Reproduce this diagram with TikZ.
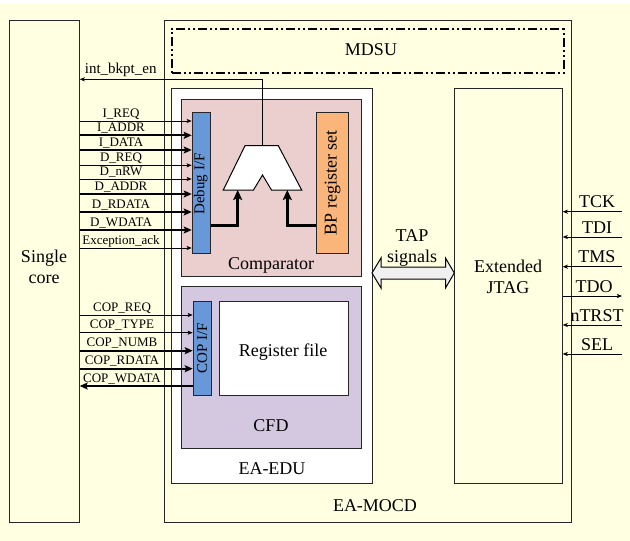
\documentclass[tikz,border=0pt]{standalone}
\usepackage{fontspec}
\setmainfont{Liberation Serif}
\usetikzlibrary{arrows.meta}
\definecolor{cream}{RGB}{255,255,225}
\definecolor{cmppink}{RGB}{235,206,206}
\definecolor{ifblue}{RGB}{104,152,216}
\definecolor{bporange}{RGB}{250,182,122}
\definecolor{cfdpurple}{RGB}{212,200,224}
\tikzset{
  blk/.style={draw=black!85, line width=1pt, inner sep=0pt, anchor=north west},
  lsig/.style={line width=0.8pt, -{Stealth[length=5pt,width=4pt,inset=1pt]}},
  hsig/.style={line width=2.2pt, -{Stealth[length=8pt,width=7pt,inset=1.5pt]}},
  msig/.style={line width=3pt, -{Stealth[length=10pt,width=9pt,inset=2pt]}},
  siglbl/.style={font=\fontsize{13}{15}\selectfont, anchor=base, inner sep=0pt},
  iflbl/.style={font=\fontsize{15}{18}\selectfont, inner sep=0pt, rotate=90},
  biglbl/.style={font=\fontsize{18}{21}\selectfont, inner sep=0pt, align=center},
}
\begin{document}
\begin{tikzpicture}[x=1pt,y=-1pt]
	\useasboundingbox (0,0) rectangle (630,541);
	\fill[cream] (0,4) rectangle (630,541);
	% blocks
	\node[blk, fill=cream, minimum width=69.4pt, minimum height=501.7pt] (core) at (9.3,20) {};
	\node[blk, fill=cream, minimum width=406.7pt, minimum height=501.7pt] (mocd) at (164,20) {};
	\node[blk, draw=black, line width=2pt, dash pattern=on 9pt off 3pt on 2pt off 3pt on 2pt off 3pt,
		minimum width=392pt, minimum height=43.7pt] (mdsu) at (170.7,28) {};
	\node[blk, fill=white, minimum width=200.7pt, minimum height=394.7pt] (edu) at (171.3,88.3) {};
	\node[blk, fill=cmppink, minimum width=180.3pt, minimum height=176.7pt] (cmp) at (180.7,99.3) {};
	\node[blk, fill=ifblue, minimum width=18pt, minimum height=141.3pt] (dbg) at (191.7,111.7) {};
	\node[blk, fill=bporange, minimum width=32.6pt, minimum height=141.6pt] (bp) at (315.7,111.7) {};
	\node[blk, fill=cfdpurple, minimum width=180pt, minimum height=161.7pt] (cfd) at (181,286) {};
	\node[blk, fill=ifblue, minimum width=18.3pt, minimum height=94.3pt] (cop) at (192.7,300.7) {};
	\node[blk, fill=white, minimum width=128.7pt, minimum height=94.3pt] (regf) at (219,300.7) {};
	\node[blk, fill=cream, minimum width=107.4pt, minimum height=395pt] (jtag) at (454.3,88.3) {};
	% texts
	\node[biglbl] (coretxt) at (44,267) {Single\\core};
	\node[biglbl, anchor=base] (mdsutxt) at (371,55) {MDSU};
	\node[biglbl, anchor=base] (cmptxt) at (271,269) {Comparator};
	\node[biglbl, anchor=base] (regftxt) at (283,356) {Register file};
	\node[biglbl, anchor=base] (cfdtxt) at (271,431) {CFD};
	\node[biglbl, anchor=base] (edutxt) at (272,474) {EA-EDU};
	\node[biglbl, anchor=base] (mocdtxt) at (375,511) {EA-MOCD};
	\node[biglbl] (jtagtxt) at (508,277) {Extended\\JTAG};
	\node[biglbl, anchor=south] (taptxt) at (412,267) {TAP\\signals};
	\node[iflbl] (dbgtxt) at (200.7,184) {Debug I/F};
	\node[biglbl, rotate=90] (bptxt) at (bp) {BP register set};
	\node[iflbl] (coptxt) at (cop) {COP I/F};
	% comparator
	\draw[line width=1pt, fill=white] (245,145.7) -- (278.3,145.7) -- (301.7,190) -- (271.5,190)
		-- (262.5,175) -- (253.5,190) -- (223.3,190) -- cycle;
	\coordinate (muxtop) at (262,145.7);
	\coordinate (muxinl) at (237.7,190);
	\coordinate (muxinr) at (287.3,190);
	\draw[msig] (dbg.east |- 0,225) -| (muxinl);
	\draw[msig] (bp.west |- 0,225) -| (muxinr);
	\draw[lsig] (muxtop) |- (core.east |- 0,79.3);
	\node[siglbl, font=\fontsize{15}{18}\selectfont] (bkpttxt) at (120.7,73.5) {int\_bkpt\_en};
	% debug signals
	\foreach \y/\txt/\w [count=\i] in {121/I\_REQ/lsig, 135.3/I\_ADDR/hsig, 150/I\_DATA/hsig,
		165.3/D\_REQ/lsig, 179/D\_nRW/lsig, 194/D\_ADDR/hsig, 212/D\_RDATA/hsig,
		230/D\_WDATA/hsig, 248/Exception\_ack/lsig}
	{
		\draw[\w] (core.east |- 0,\y) -- (dbg.west |- 0,\y);
		\node[siglbl] (dl\i) at (121,\y-4) {\txt};
	}
	% cop signals
	\foreach \y/\txt/\w [count=\i] in {315/COP\_REQ/lsig, 332.7/COP\_TYPE/lsig,
		350.7/COP\_NUMB/hsig, 368.7/COP\_RDATA/hsig}
	{
		\draw[\w] (core.east |- 0,\y) -- (cop.west |- 0,\y);
		\node[siglbl] (cl\i) at (122,\y-4) {\txt};
	}
	\draw[hsig] (cop.west |- 0,386) -- (core.east |- 0,386);
	\node[siglbl] (cl5) at (122,382) {COP\_WDATA};
	% tap signals
	\draw[line width=1pt, fill=gray!12] (372,273) -- (381,258) -- (381,267) -- (445.5,267)
		-- (445.5,258) -- (454.3,273) -- (445.5,288) -- (445.5,279) -- (381,279) -- (381,288) -- cycle;
	% jtag pins
	\foreach \y/\txt/\i in {211.7/TCK/1, 237/TDI/2, 266.7/TMS/3, 325/nTRST/5, 354/SEL/6}
	{
		\coordinate (pin\i) at (622,\y);
		\draw[lsig] (pin\i) -- (jtag.east |- pin\i);
		\node[biglbl, anchor=base] (pl\i) at (597,\y-4) {\txt};
	}
	\coordinate (pin4) at (622,296);
	\draw[lsig] (jtag.east |- pin4) -- (pin4);
	\node[biglbl, anchor=base] (pl4) at (594,292) {TDO};
\end{tikzpicture}
\end{document}
